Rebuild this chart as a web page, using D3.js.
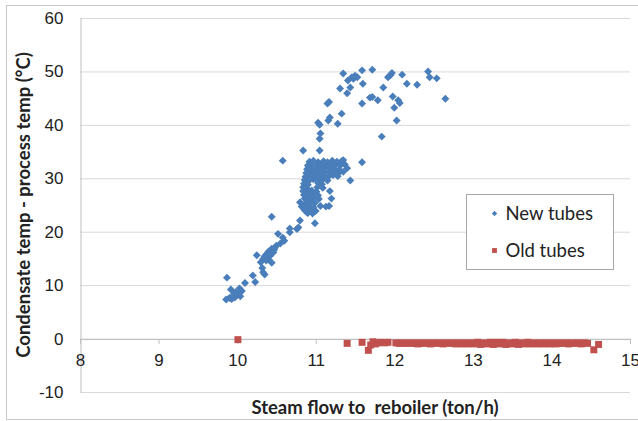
<!DOCTYPE html>
<html>
<head>
<meta charset="utf-8">
<script src="https://cdn.jsdelivr.net/npm/d3@7"></script>
<style>
  body { margin: 0; background: #fff; }
  svg { font-family: Lato, "Open Sans", sans-serif; }
  .tick text { fill: #222; }
</style>
</head>
<body>
<svg id="chart" width="638" height="421"></svg>
<script>
// x ticks and y ticks
const xTicks = [8, 9, 10, 11, 12, 13, 14, 15];
const yTicks = [-10, 0, 10, 20, 30, 40, 50, 60];

// New tubes: [steam flow, temp difference]
const newTubes = [
  // low tail
  [9.87, 11.4], [9.86, 7.3], [9.9, 7.6], [9.93, 7.4], [9.95, 8.0], [9.97, 7.7],
  [9.92, 9.2], [9.98, 8.7], [10.0, 8.2], [10.02, 8.5], [10.04, 7.9], [10.06, 8.9],
  [10.03, 9.4], [9.96, 8.4], [10.1, 10.4], [10.2, 11.8], [10.23, 10.6], [10.25, 15.6],
  [10.32, 13.2], [10.33, 12.4], [10.35, 12.0], [10.3, 14.3], [10.33, 14.9], [10.35, 15.4],
  [10.37, 14.6], [10.38, 15.9], [10.4, 16.3], [10.42, 15.5], [10.44, 16.8], [10.46, 16.1],
  [10.4, 14.8], [10.36, 15.2], [10.48, 17.0], [10.5, 17.4], [10.47, 16.6], [10.44, 14.2],
  [10.52, 19.6], [10.55, 17.8], [10.58, 18.9], [10.6, 18.3], [10.67, 19.9], [10.78, 20.8],
  [10.67, 20.6], [10.76, 20.5], [10.44, 22.8],
  // dense block, upper part
  [10.92, 33.1], [10.97, 33.3], [11.03, 33.0], [11.1, 33.2], [11.15, 33.0], [11.21, 33.3], [11.27, 33.1], [11.33, 33.2],
  [10.9, 32.4], [10.95, 32.6], [11.01, 32.3], [11.07, 32.5], [11.13, 32.6], [11.19, 32.3], [11.25, 32.6], [11.31, 32.4], [11.37, 32.6],
  [10.89, 31.7], [10.94, 31.9], [11.0, 31.6], [11.06, 31.8], [11.12, 31.9], [11.18, 31.7], [11.24, 31.8], [11.3, 31.6], [11.4, 31.9],
  [10.88, 31.0], [10.93, 31.2], [10.99, 30.9], [11.05, 31.1], [11.11, 31.2], [11.17, 31.0], [11.23, 31.3], [11.29, 31.0], [11.35, 31.2],
  [10.87, 30.3], [10.92, 30.5], [10.98, 30.2], [11.04, 30.4], [11.1, 30.5], [11.16, 30.3], [11.22, 30.6], [11.28, 30.4],
  [11.44, 29.6], [11.35, 33.4], [11.59, 33.0], [10.58, 33.3],
  // dense block, lower part
  [10.86, 29.7], [10.91, 29.5], [10.97, 29.8], [11.03, 29.6], [11.09, 29.8], [11.15, 29.6],
  [10.85, 29.0], [10.9, 28.8], [11.03, 29.1], [11.08, 28.9],
  [10.84, 28.3], [10.89, 28.1], [11.02, 28.3], [11.09, 28.2],
  [10.84, 27.6], [10.89, 27.4], [10.95, 27.7], [11.01, 27.5], [11.18, 27.6],
  [10.85, 26.9], [10.9, 26.7], [10.96, 27.0], [11.03, 26.8],
  [10.86, 26.2], [10.91, 26.0], [10.97, 26.3], [11.04, 26.1], [11.2, 26.2],
  [10.8, 25.5], [10.87, 25.3], [10.93, 25.6], [10.99, 25.4],
  [10.82, 24.7], [10.87, 24.6], [10.92, 24.8], [10.97, 24.6], [11.06, 24.8], [11.13, 24.7], [11.17, 24.8],
  [10.86, 24.0], [10.92, 24.1], [11.0, 23.9], [10.9, 23.5], [10.96, 23.4],
  [10.99, 21.6], [10.8, 22.1], [10.89, 23.6],
  // upper arm
  [10.84, 35.2], [11.05, 35.2], [11.05, 37.4], [11.06, 38.4], [11.03, 40.4], [11.05, 40.0],
  [11.16, 40.8], [11.18, 41.4], [11.28, 40.2], [11.33, 42.1], [11.15, 44.0], [11.17, 44.3],
  [11.31, 46.8], [11.4, 45.9], [11.44, 47.0], [11.35, 49.6], [11.41, 48.3], [11.46, 48.9],
  [11.48, 48.6], [11.5, 49.2], [11.53, 48.9], [11.59, 50.2], [11.72, 50.3], [11.6, 47.7],
  [11.59, 44.0], [11.69, 45.1], [11.72, 45.2], [11.79, 44.6], [11.86, 47.0], [11.92, 48.9],
  [11.95, 49.3], [11.97, 49.7], [12.1, 49.4], [12.16, 47.7], [12.29, 47.5], [11.98, 45.3],
  [12.05, 44.6], [12.07, 44.1], [12.0, 43.2], [12.03, 40.8], [11.84, 37.8], [12.43, 50.0],
  [12.45, 48.9], [12.54, 48.7], [12.65, 44.9]
];

// Old tubes: [steam flow, temp difference]
const oldTubes = [
  [10.01, -0.2], [11.4, -0.9], [11.59, -0.7], [11.67, -2.2], [11.7, -1.2], [11.73, -0.6],
  [11.76, -1.0], [11.79, -0.8], [11.83, -0.7], [11.88, -0.8], [11.92, -0.7],
  [12.02, -0.8], [12.06, -0.9], [12.1, -0.8], [12.14, -0.9], [12.18, -0.8], [12.22, -0.9],
  [12.26, -0.8], [12.3, -1.0], [12.34, -0.8], [12.38, -0.9], [12.42, -0.8], [12.46, -1.0],
  [12.5, -0.8], [12.54, -0.9], [12.58, -0.8], [12.62, -1.0], [12.66, -0.8], [12.7, -0.9],
  [12.74, -0.8], [12.78, -1.0], [12.82, -0.8], [12.86, -1.0], [12.9, -0.8], [12.94, -1.0],
  [12.98, -0.8], [13.02, -1.0], [13.06, -0.7], [13.1, -1.1], [13.14, -0.8], [13.18, -1.0],
  [13.22, -0.7], [13.26, -1.1], [13.3, -0.7], [13.34, -1.0], [13.38, -0.7], [13.42, -1.1],
  [13.46, -0.8], [13.5, -1.0], [13.54, -0.7], [13.58, -1.1], [13.62, -0.8], [13.66, -1.0],
  [13.7, -0.7], [13.74, -1.0], [13.78, -0.8], [13.82, -1.0], [13.86, -0.8], [13.9, -1.0],
  [13.94, -0.8], [13.98, -1.0], [14.02, -0.8], [14.06, -1.0], [14.1, -0.8], [14.14, -0.9],
  [14.18, -0.8], [14.22, -1.0], [14.26, -0.8], [14.3, -0.9], [14.34, -0.8], [14.38, -1.0],
  [14.42, -0.8], [14.46, -0.9], [14.54, -2.1], [14.6, -1.1]
];

const series = [
  { name: "New tubes", data: newTubes, color: "#4a7ebb", shape: d3.symbolDiamond2, size: 40, legendSize: 18 },
  { name: "Old tubes", data: oldTubes, color: "#c0504d", shape: d3.symbolSquare2, size: 62, legendSize: 30 }
];

const svg = d3.select("#chart");
const W = 638, H = 421;
const margin = { top: 18, right: 8, bottom: 29, left: 80 };

// outer chart border
svg.append("rect")
  .attr("x", 6.5).attr("y", 5.5)
  .attr("width", W - 6).attr("height", H - 7)
  .attr("fill", "#fff").attr("stroke", "#c8c8c8");

const x = d3.scaleLinear().domain([8, 15]).range([margin.left, W - margin.right]);
const y = d3.scaleLinear().domain([-10, 60]).range([H - margin.bottom, margin.top]);

// horizontal gridlines
svg.append("g")
  .selectAll("line")
  .data(yTicks)
  .join("line")
  .attr("x1", x(8)).attr("x2", x(15))
  .attr("y1", d => y(d) + 0.5).attr("y2", d => y(d) + 0.5)
  .attr("stroke", "#d9d9d9");

// y axis (hyphen minus like the original)
const yAxis = svg.append("g")
  .attr("transform", "translate(" + (x(8) + 0.5) + ",0)")
  .call(d3.axisLeft(y).tickValues(yTicks).tickSize(0).tickPadding(17).tickFormat(d => String(d)));
yAxis.select(".domain").attr("stroke", "#bfbfbf");
yAxis.selectAll("text").style("font-size", "17px");

// x axis crosses at 0
const xAxis = svg.append("g")
  .attr("transform", "translate(0," + (y(0) + 0.5) + ")")
  .call(d3.axisBottom(x).tickValues(xTicks).tickSize(5).tickPadding(10).tickFormat(d => String(d)));
xAxis.select(".domain").attr("stroke", "#bfbfbf");
xAxis.selectAll("line").attr("stroke", "#bfbfbf");
xAxis.selectAll("text").style("font-size", "17px");

// points
series.forEach(s => {
  svg.append("g")
    .selectAll("path")
    .data(s.data)
    .join("path")
    .attr("transform", d => "translate(" + x(d[0]) + "," + y(d[1]) + ")")
    .attr("d", d3.symbol().type(s.shape).size(s.size))
    .attr("fill", s.color);
});

// axis titles
svg.append("text")
  .attr("x", 375).attr("y", 414)
  .attr("text-anchor", "middle")
  .style("font-size", "18.5px").style("font-weight", "bold")
  .style("white-space", "pre")
  .attr("fill", "#222")
  .text("Steam flow to  reboiler (ton/h)");

svg.append("text")
  .attr("transform", "translate(30,205) rotate(-90)")
  .attr("text-anchor", "middle")
  .style("font-size", "18.5px").style("font-weight", "bold")
  .attr("fill", "#222")
  .text("Condensate temp - process temp (°C)");

// legend
const legend = svg.append("g").attr("transform", "translate(466.5,194.5)");
legend.append("rect")
  .attr("width", 147).attr("height", 75)
  .attr("fill", "#fff").attr("stroke", "#a6a6a6");
series.forEach((s, i) => {
  const row = legend.append("g").attr("transform", "translate(28," + (19 + i * 37) + ")");
  row.append("path")
    .attr("d", d3.symbol().type(s.shape).size(s.legendSize))
    .attr("fill", s.color);
  row.append("text")
    .attr("x", 11).attr("y", 6.5)
    .style("font-size", "18.5px")
    .attr("fill", "#222")
    .text(s.name);
});
</script>
</body>
</html>
